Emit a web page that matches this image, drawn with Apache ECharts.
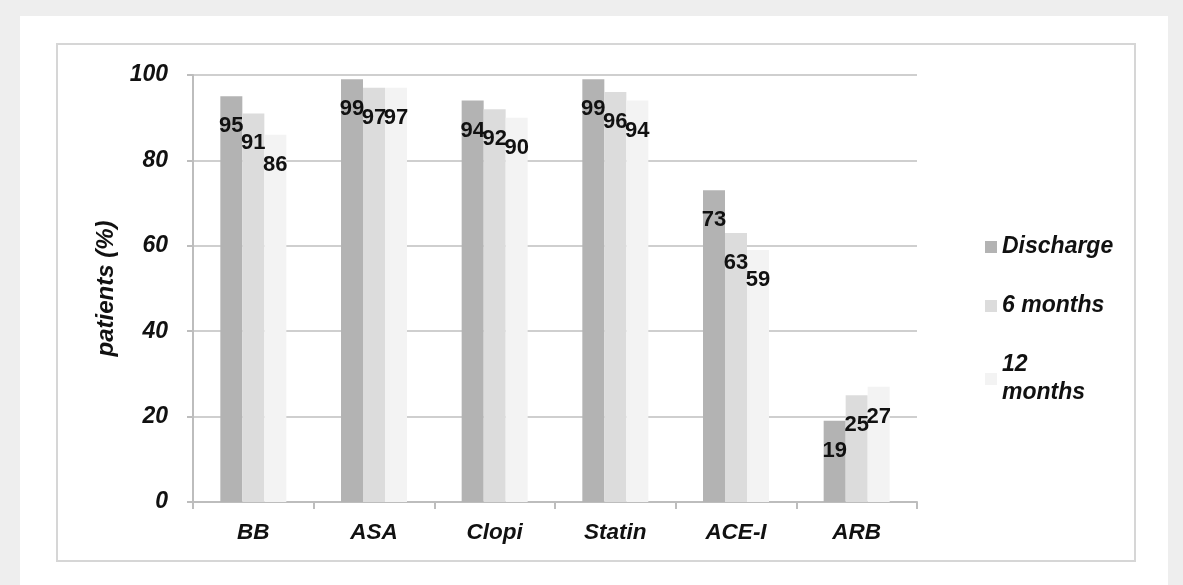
<!DOCTYPE html>
<html>
<head>
<meta charset="utf-8">
<script src="https://cdn.jsdelivr.net/npm/echarts@6/dist/echarts.min.js"></script>
<style>
    html, body { margin: 0; padding: 0; background: #eeeeee; }
    #panel { position: absolute; left: 20px; top: 16px; width: 1148px; height: 569px; background: #ffffff; }
    #frame { position: absolute; left: 56px; top: 43px; width: 1076px; height: 515px; border: 2px solid #d6d6d6; }
    #chart { position: absolute; left: 0; top: 0; width: 1183px; height: 585px; }
</style>
</head>
<body>
<div id="panel"></div>
<div id="frame"></div>
<div id="chart"></div>
<script>
// 药物类别
var categories = ['BB', 'ASA', 'Clopi', 'Statin', 'ACE-I', 'ARB'];
// 各时间点用药比例
var discharge = [95, 99, 94, 99, 73, 19];
var sixMonths = [91, 97, 92, 96, 63, 25];
var twelveMonths = [86, 97, 90, 94, 59, 27];
var yTicks = [0, 20, 40, 60, 80, 100];

var font = 'Liberation Sans, Arial, sans-serif';

function barSeries(name, data, color) {
    return {
        name: name,
        type: 'bar',
        data: data,
        barWidth: 22,
        barGap: '0%',
        itemStyle: { color: color },
        label: {
            show: true,
            position: ['50%', 19],
            align: 'center',
            verticalAlign: 'top',
            color: '#111',
            fontFamily: font,
            fontWeight: 'bold',
            fontSize: 22
        },
        z: 3
    };
}

var option = {
    animation: false,
    backgroundColor: 'transparent',
    grid: { left: 193, right: 266, top: 75, bottom: 83 },
    legend: {
        orient: 'vertical',
        left: 980,
        top: 228,
        itemWidth: 12,
        itemHeight: 12,
        itemGap: 31,
        icon: 'rect',
        formatter: function (n) { return n === '12 months' ? '12\nmonths' : n; },
        textStyle: {
            fontFamily: font,
            fontStyle: 'italic',
            fontWeight: 'bold',
            fontSize: 23,
            lineHeight: 28,
            color: '#111'
        },
        data: ['Discharge', '6 months', '12 months']
    },
    xAxis: {
        type: 'category',
        data: categories,
        axisLine: { lineStyle: { color: '#bdbdbd', width: 2 } },
        axisTick: { show: true, length: 7, lineStyle: { color: '#bdbdbd', width: 2 } },
        axisLabel: {
            margin: 19,
            color: '#111',
            fontFamily: font,
            fontStyle: 'italic',
            fontWeight: 'bold',
            fontSize: 22.5
        }
    },
    yAxis: {
        type: 'value',
        min: yTicks[0],
        max: yTicks[yTicks.length - 1],
        interval: 20,
        name: 'patients (%)',
        nameLocation: 'middle',
        nameGap: 70,
        nameTextStyle: {
            color: '#111',
            fontFamily: font,
            fontStyle: 'italic',
            fontWeight: 'bold',
            fontSize: 24
        },
        axisLine: { show: true, lineStyle: { color: '#bdbdbd', width: 2 } },
        axisTick: { show: true, inside: false, length: 6, lineStyle: { color: '#bdbdbd', width: 2 } },
        splitLine: { lineStyle: { color: '#cfcfcf', width: 2 } },
        axisLabel: {
            margin: 25,
            color: '#111',
            fontFamily: font,
            fontStyle: 'italic',
            fontWeight: 'bold',
            fontSize: 23
        }
    },
    series: [
        barSeries('Discharge', discharge, '#b3b3b3'),
        barSeries('6 months', sixMonths, '#dcdcdc'),
        barSeries('12 months', twelveMonths, '#f3f3f3')
    ]
};

var chart = echarts.init(document.getElementById('chart'));
chart.setOption(option);
</script>
</body>
</html>
